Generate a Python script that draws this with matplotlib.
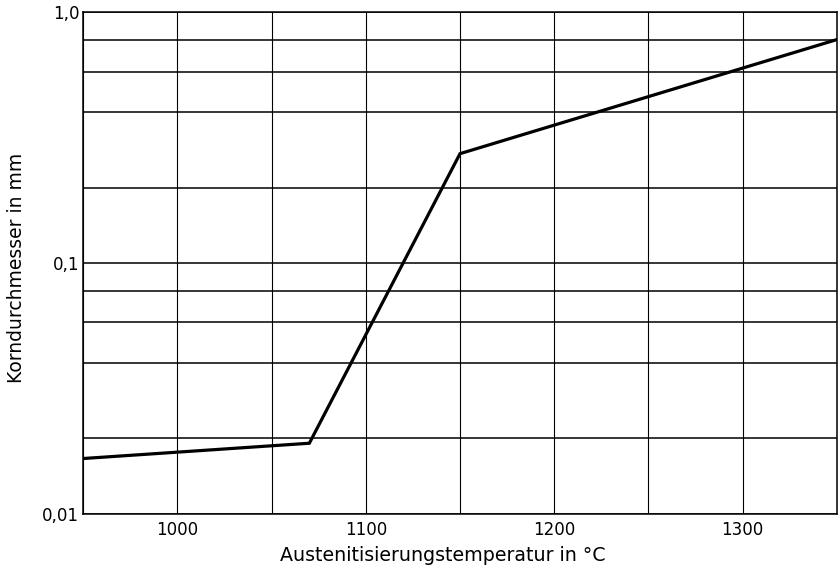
import matplotlib.pyplot as plt
import matplotlib.ticker as mticker

# curve
temp = [950, 1070, 1150, 1350]
grain = [0.0166, 0.0191, 0.273, 0.778]

xticks = [1000, 1100, 1200, 1300]
xgrid = [950, 1000, 1050, 1100, 1150, 1200, 1250, 1300, 1350]
yticks = [0.01, 0.1, 1.0]
ylabels = ["0,01", "0,1", "1,0"]
# the ruling of the paper is not quite at 0.8 / 0.6
ygrid = [0.02, 0.04, 0.058, 0.0775, 0.2, 0.4, 0.58, 0.775]

fig = plt.figure(figsize=(8.38, 5.69), dpi=100)
ax = fig.add_axes([0.0994, 0.0972, 0.8991, 0.8812])

ax.set_yscale("log")
ax.set_xlim(950, 1350)
ax.set_ylim(0.01, 1.0)

for x in xgrid:
    ax.axvline(x, color="black", lw=0.8, zorder=1)
for y in ygrid + yticks:
    ax.axhline(y, color="black", lw=1.1, zorder=1)

ax.plot(temp, grain, color="black", lw=2.3, solid_joinstyle="miter", zorder=3)

ax.set_xticks(xticks)
ax.set_xticklabels([str(t) for t in xticks])
ax.set_yticks(yticks)
ax.set_yticklabels(ylabels)
ax.yaxis.set_minor_locator(mticker.NullLocator())
ax.tick_params(axis="x", length=0, labelsize=12, pad=5)
ax.tick_params(axis="y", length=0, labelsize=12, pad=3)

for s in ax.spines.values():
    s.set_linewidth(1.1)

ax.set_xlabel("Austenitisierungstemperatur in °C", fontsize=13.7)
ax.xaxis.set_label_coords(0.477, -0.064)
ax.set_ylabel("Korndurchmesser in mm", fontsize=13.5)
ax.yaxis.set_label_coords(-0.076, 0.49)

fig.savefig("out.png", dpi=100)
